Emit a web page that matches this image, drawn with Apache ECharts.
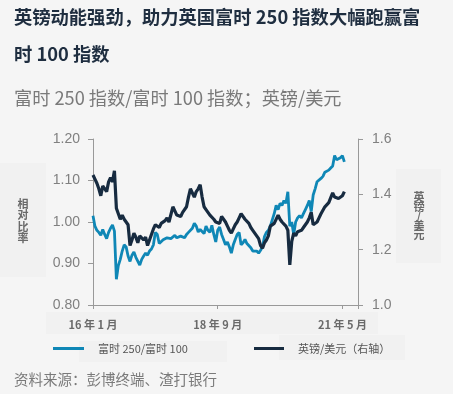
<!DOCTYPE html>
<html>
<head>
<meta charset="utf-8">
<script src="https://cdn.jsdelivr.net/npm/echarts@6/dist/echarts.min.js"></script>
<style>
html,body{margin:0;padding:0;background:#f5f5f5;}
#c{width:453px;height:394px;}
</style>
</head>
<body>
<div id="c"></div>
<script>
// months since Jan 2016, step 0.5
var monthStep = 0.5;
var tickLabels = {0: '16 年 1 月', 32: '18 年 9 月', 64: '21 年 5 月'};
var seriesNames = ['富时 250/富时 100', '英镑/美元（右轴）'];

// FTSE 250 / FTSE 100 ratio (left axis)
var ratio = [
1.015,0.99,0.98,0.975,0.968,0.982,0.97,0.96,0.975,0.985,0.993,0.978,
0.862,0.895,0.91,0.93,0.945,0.94,0.918,0.905,0.92,0.928,0.915,0.918,
0.896,0.91,0.918,0.925,0.92,0.93,0.935,0.945,0.975,0.97,0.948,0.952,
0.957,0.96,0.962,0.965,0.96,0.963,0.968,0.962,0.96,0.966,0.97,0.962,
0.97,0.975,0.978,0.985,0.997,0.99,0.976,0.982,0.985,0.972,0.99,0.98,
0.975,0.992,0.97,0.952,0.98,0.988,0.97,0.958,0.945,0.952,0.94,0.925,
0.945,0.958,0.97,0.975,0.945,0.95,0.958,0.948,0.945,0.938,0.93,0.926,
0.93,0.925,0.932,0.94,0.965,0.975,0.98,0.99,1.005,1.02,1.04,1.03,
1.045,1.04,1.052,1.045,1.073,0.99,1.0,0.97,1.0,1.01,1.015,1.01,
1.02,1.03,1.04,1.052,1.025,1.065,1.08,1.097,1.1,1.105,1.11,1.12,
1.118,1.125,1.13,1.135,1.16,1.15,1.148,1.155,1.16,1.145
];

// GBP/USD (right axis)
var gbpusd = [
1.47,1.455,1.44,1.42,1.395,1.43,1.42,1.41,1.445,1.46,1.445,1.485,
1.35,1.33,1.31,1.325,1.31,1.30,1.29,1.215,1.235,1.26,1.245,1.225,
1.25,1.245,1.235,1.245,1.215,1.235,1.24,1.275,1.29,1.29,1.28,1.295,
1.29,1.305,1.315,1.30,1.295,1.355,1.34,1.325,1.33,1.32,1.335,1.34,
1.355,1.39,1.42,1.405,1.39,1.41,1.42,1.435,1.39,1.355,1.345,1.335,
1.325,1.32,1.31,1.30,1.305,1.295,1.32,1.31,1.30,1.285,1.27,1.26,
1.275,1.29,1.30,1.315,1.33,1.325,1.31,1.305,1.295,1.28,1.27,1.265,
1.25,1.24,1.215,1.205,1.225,1.235,1.25,1.285,1.29,1.295,1.30,1.325,
1.31,1.30,1.295,1.285,1.27,1.145,1.23,1.26,1.25,1.265,1.26,1.27,
1.28,1.29,1.30,1.315,1.335,1.29,1.285,1.30,1.315,1.33,1.335,1.355,
1.36,1.37,1.375,1.405,1.39,1.385,1.385,1.39,1.395,1.41
];

function pairs(arr){ return arr.map(function(v,i){ return [i*monthStep, v]; }); }

var cjk = '"Noto Sans CJK SC", "Noto Sans", sans-serif';
var num = '"Liberation Sans", Arial, sans-serif';

var chart = echarts.init(document.getElementById('c'), null, {renderer:'canvas'});
chart.setOption({
  backgroundColor: '#f5f5f5',
  animation: false,
  graphic: [
    {type:'rect', shape:{x:0,y:163,width:46,height:114}, style:{fill:'#f1f1f1'}, z:-10},
    {type:'rect', shape:{x:396,y:169,width:45,height:94}, style:{fill:'#f1f1f1'}, z:-10},
    {type:'rect', shape:{x:46,y:312,width:332,height:22}, style:{fill:'#f1f1f1'}, z:-10},
    {type:'rect', shape:{x:79,y:341,width:148,height:21}, style:{fill:'#f1f1f1'}, z:-10},
    {type:'rect', shape:{x:279,y:335,width:126,height:25}, style:{fill:'#f1f1f1'}, z:-10},
    {type:'text', left:14, top:8, style:{text:'英镑动能强劲，助力英国富时 250 指数大幅跑赢富', font:'bold 18.3px ' + cjk, fill:'#1f2e40'}},
    {type:'text', left:14, top:45, style:{text:'时 100 指数', font:'bold 18.3px ' + cjk, fill:'#1f2e40'}},
    {type:'text', left:14, top:89, style:{text:'富时 250 指数/富时 100 指数；英镑/美元', font:'18.2px ' + cjk, fill:'#7a7a7a'}},
    {type:'text', left:14, top:372, style:{text:'资料来源：彭博终端、渣打银行', font:'14.5px ' + cjk, fill:'#7a7a7a'}},
    {type:'text', x:23, y:221, style:{text:'相\n对\n比\n率', font:'bold 11px ' + cjk, fill:'#6a6a6a', align:'center', verticalAlign:'middle', lineHeight:11.5}},
    {type:'text', x:419, y:216, style:{text:'英\n镑\n/\n美\n元', font:'bold 11px ' + cjk, fill:'#6a6a6a', align:'center', verticalAlign:'middle', lineHeight:9.5}}
  ],
  legend: [
    {data:[seriesNames[0]], left:48, top:338, icon:'rect', itemWidth:31, itemHeight:3,
     textStyle:{fontFamily:cjk, fontSize:11, color:'#555', padding:[0,0,0,9]}},
    {data:[seriesNames[1]], left:249, top:338, icon:'rect', itemWidth:30, itemHeight:3,
     textStyle:{fontFamily:cjk, fontSize:11, color:'#555', padding:[0,0,0,9]}}
  ],
  grid: {left:93, right:95, top:139, bottom:89, containLabel:false},
  xAxis: {
    type:'value', min:0, max:68, interval:32,
    axisLine:{show:true, lineStyle:{color:'#999', width:1}},
    axisTick:{show:true, length:4, lineStyle:{color:'#999'}},
    splitLine:{show:false},
    axisLabel:{margin:14, fontFamily:cjk, fontWeight:'bold', fontSize:11, color:'#6a6a6a',
      formatter:function(v){ return tickLabels[v] || ''; }}
  },
  yAxis: [
    {type:'value', min:0.8, max:1.2, interval:0.1, position:'left',
     axisLine:{show:true, lineStyle:{color:'#999'}},
     axisTick:{show:true, length:5, lineStyle:{color:'#999'}},
     splitLine:{show:false},
     axisLabel:{margin:13, fontFamily:num, fontSize:14, color:'#808080',
       formatter:function(v){ return v.toFixed(2); }}},
    {type:'value', min:1.0, max:1.6, interval:0.2, position:'right',
     axisLine:{show:true, lineStyle:{color:'#999'}},
     axisTick:{show:true, length:5, lineStyle:{color:'#999'}},
     splitLine:{show:false},
     axisLabel:{margin:14, fontFamily:num, fontSize:14, color:'#808080',
       formatter:function(v){ return v.toFixed(1); }}}
  ],
  series: [
    {name:seriesNames[0], type:'line', yAxisIndex:0, data:pairs(ratio), showSymbol:false,
     lineStyle:{color:'#0f87b6', width:2.8}, itemStyle:{color:'#0f87b6'}},
    {name:seriesNames[1], type:'line', yAxisIndex:1, data:pairs(gbpusd), showSymbol:false,
     lineStyle:{color:'#172b40', width:3.2}, itemStyle:{color:'#172b40'}}
  ]
});
</script>
</body>
</html>
